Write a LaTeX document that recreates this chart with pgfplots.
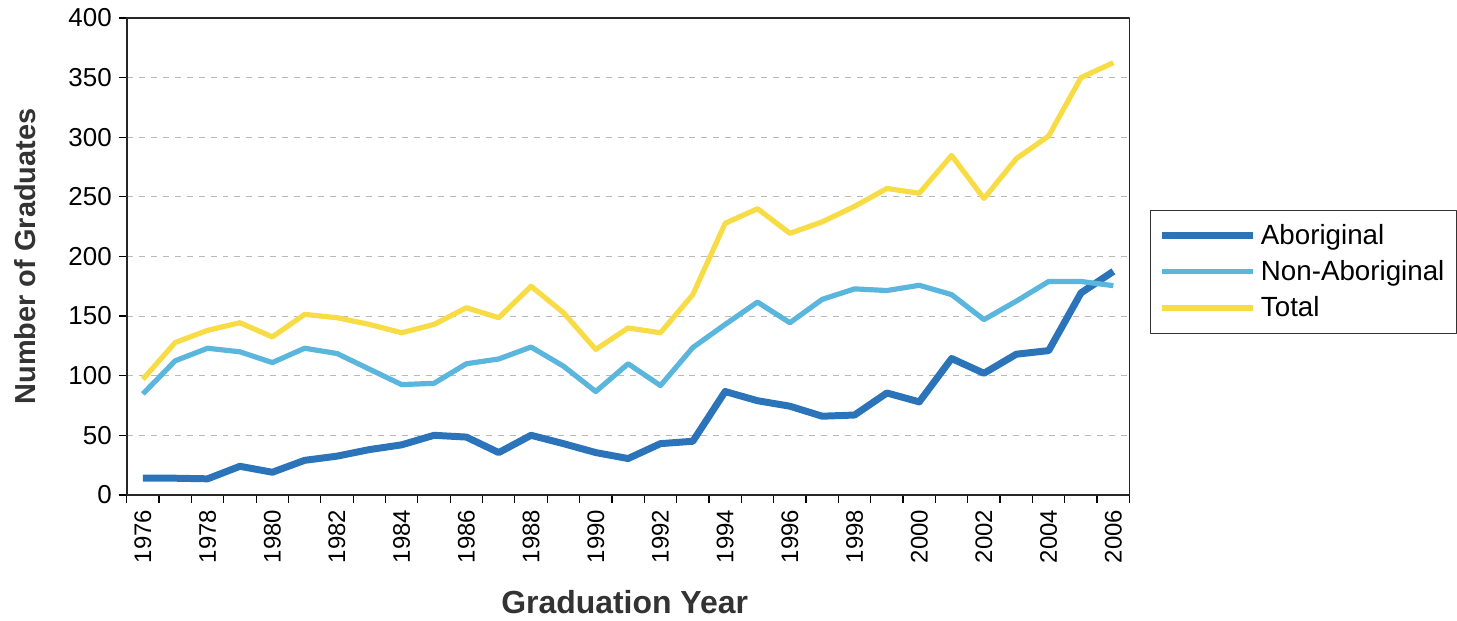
\documentclass[border=0pt]{standalone}
\usepackage{fontspec}
\setmainfont{Liberation Sans}
\usepackage{pgfplots}
\pgfplotsset{compat=1.18}
\definecolor{abo}{HTML}{2B74B9}
\definecolor{nonabo}{HTML}{5BB6DE}
\definecolor{tot}{HTML}{F8DC45}
\begin{document}
\begin{tikzpicture}
\begin{axis}[
  name=ax,
  width=502.5pt, height=239pt, scale only axis,
  xmin=1975.5, xmax=2006.5, ymin=0, ymax=400,
  ytick={0,50,...,400},
  xtick={1976,1978,...,2006},
  minor xtick={1975.5,1976.5,...,2006.5},
  major x tick style={draw=none},
  minor tick length=4pt, major tick length=4pt,
  tick align=outside, tick pos=left,
  tick style={black, line width=0.6pt},
  axis line style={line width=0.8pt, black!85},
  ymajorgrids, grid style={dashed, gray!55, line width=0.5pt},
  /pgf/number format/assume math mode=true,
  /pgf/number format/1000 sep={},
  xticklabel style={rotate=90, anchor=east, font=\fontsize{12}{14}\selectfont, yshift=0pt},
  yticklabel style={font=\fontsize{13}{15}\selectfont},
  xlabel={\textbf{Graduation Year}},
  ylabel={\textbf{Number of Graduates}},
  xlabel style={at={(axis description cs:0.4965,-0.224)}, anchor=center, font=\fontsize{16}{18}\selectfont, text=black!80},
  ylabel style={at={(axis description cs:-0.1015,0.5)}, anchor=center, font=\fontsize{14.5}{17}\selectfont, text=black!80},
  legend style={at={(1.02,0.4676)}, anchor=west, draw=black!80, line width=0.6pt,
    font=\fontsize{13.9}{16}\selectfont, row sep=2.5pt, inner xsep=4pt, inner ysep=5pt},
  legend cell align=left,
  legend image code/.code={\draw[#1] (0pt,0pt) -- (46pt,0pt);},
  line join=round,
]
\addplot[abo, line width=3.5pt] coordinates {
(1976,14) (1977,14) (1978,13.5) (1979,24) (1980,19) (1981,29) (1982,32.5) (1983,38) (1984,42) (1985,50) (1986,48.5) (1987,35.5) (1988,50) (1989,43) (1990,35.5) (1991,30.5)
(1992,43) (1993,45) (1994,86.7) (1995,79) (1996,74.4) (1997,66) (1998,67) (1999,85.5) (2000,78) (2001,114.4) (2002,102) (2003,118) (2004,121) (2005,169.4) (2006,187.5)};
\addlegendentry{Aboriginal}
\addplot[nonabo, line width=2.6pt] coordinates {
(1976,84.7) (1977,112.5) (1978,123) (1979,120) (1980,111) (1981,123) (1982,118.6) (1983,105.5) (1984,92.5) (1985,93.6) (1986,110) (1987,114) (1988,124) (1989,108) (1990,86.7) (1991,110)
(1992,91.7) (1993,123.6) (1994,143) (1995,161.7) (1996,144.4) (1997,164) (1998,172.8) (1999,171.4) (2000,175.8) (2001,168) (2002,147) (2003,162.5) (2004,179) (2005,179) (2006,175.5)};
\addlegendentry{Non-Aboriginal}
\addplot[tot, line width=2.6pt] coordinates {
(1976,97) (1977,127.8) (1978,138) (1979,144.4) (1980,132.5) (1981,151.4) (1982,148.6) (1983,143) (1984,136) (1985,143) (1986,157) (1987,148.6) (1988,175) (1989,152.8) (1990,122) (1991,140)
(1992,136) (1993,168) (1994,227.8) (1995,240) (1996,219.4) (1997,229) (1998,242) (1999,257) (2000,253) (2001,284.7) (2002,248.6) (2003,282) (2004,301) (2005,350) (2006,362.5)};
\addlegendentry{Total}
\end{axis}
\path (ax.south west) ++(-63.5pt,-61pt);
\path (ax.north east) ++(162.5pt,9pt);
\end{tikzpicture}
\end{document}
